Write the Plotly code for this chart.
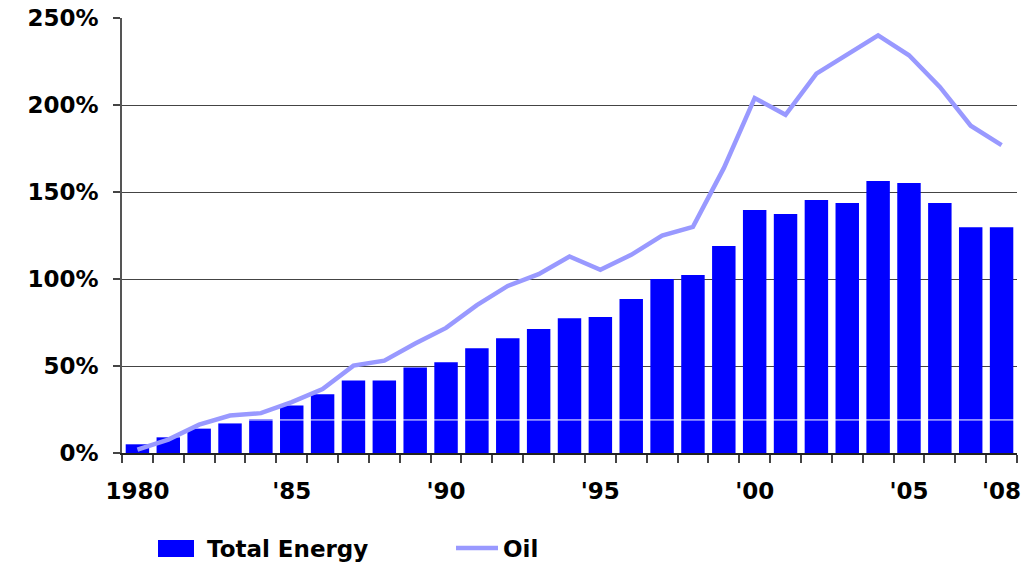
import plotly.graph_objects as go

# Growth since 1980, in percent
years = list(range(1980, 2009))
total_energy = [5, 9, 14, 17, 19.5, 27.3, 33.7, 41.7, 41.7, 49.2, 52.1,
                60.2, 66, 71.2, 77.5, 78.1, 88.5, 100, 102.3, 118.9, 139.6,
                137.3, 145.4, 143.7, 156.3, 155.2, 143.7, 129.8, 129.8]
oil = [2, 7.7, 16.3, 21.5, 22.9, 29.2, 36.7, 50.2, 53.1, 62.9, 71.9,
       85, 96, 102.8, 112.9, 105.3, 113.9, 125, 130, 163.7, 204, 194.4,
       218, 229, 240, 228.6, 210.4, 188.1, 176.9]
tick_years = [1980, 1985, 1990, 1995, 2000, 2005, 2008]
tick_text = ["1980", "'85", "'90", "'95", "'00", "'05", "'08"]
y_ticks = [0, 50, 100, 150, 200, 250]
rule_level = 19

BAR = "#0000FF"
OIL = "#9999FF"
FONT = "DejaVu Sans"
FS = 23

x_lo, x_hi = years[0] - 0.5, years[-1] + 0.5
boundaries = [y - 0.5 for y in years] + [x_hi]

fig = go.Figure()
fig.add_trace(go.Bar(x=years, y=total_energy, name="Total Energy",
                     marker=dict(color=BAR, line=dict(width=0)),
                     width=0.76, showlegend=False))
# thin white rule across the bars
fig.add_trace(go.Scatter(x=[x_lo, x_hi], y=[rule_level, rule_level],
                         mode="lines", line=dict(color="white", width=1),
                         hoverinfo="skip", showlegend=False))
fig.add_trace(go.Scatter(x=years, y=oil, name="Oil", mode="lines",
                         line=dict(color=OIL, width=4.5),
                         showlegend=False))

fig.update_layout(
    width=1030, height=563,
    margin=dict(l=122, r=13, t=18, b=110),
    paper_bgcolor="white", plot_bgcolor="white",
    font=dict(family=FONT, size=FS, color="black"),
)
fig.update_xaxes(
    range=[x_lo, x_hi], tickmode="array", tickvals=tick_years,
    ticktext=tick_text, ticks="", showgrid=False, zeroline=False,
    showline=True, linecolor="#222", linewidth=1.5, automargin=False,
    tickfont=dict(family=FONT, size=FS, color="black", weight="bold"),
    ticklabelstandoff=17,
    minor=dict(tickvals=boundaries, ticks="outside", ticklen=8,
               tickcolor="#444", tickwidth=1.5, showgrid=False),
)
fig.update_yaxes(
    range=[0, 250], tickmode="array", tickvals=y_ticks,
    ticktext=[f"{v}%" for v in y_ticks], ticks="outside", ticklen=7,
    tickcolor="#444", tickwidth=1.5, automargin=False,
    showgrid=True, gridcolor="#444", gridwidth=1, zeroline=False,
    showline=True, linecolor="#555", linewidth=1.5,
    tickfont=dict(family=FONT, size=FS, color="black", weight="bold"),
    ticklabelstandoff=10,
)


def px_x(p):
    return (p - 122) / 895


def px_y(p):
    return (453 - p) / 435


# legend row below the axis
fig.add_shape(type="rect", xref="paper", yref="paper",
              x0=px_x(158), x1=px_x(194), y0=px_y(557), y1=px_y(540),
              fillcolor=BAR, line=dict(width=0), layer="above")
fig.add_shape(type="line", xref="paper", yref="paper",
              x0=px_x(456), x1=px_x(498), y0=px_y(548), y1=px_y(548),
              line=dict(color=OIL, width=4.5), layer="above")
fig.add_annotation(text="<b>Total Energy</b>", xref="paper", yref="paper",
                   x=px_x(205), y=px_y(549),
                   xanchor="left", yanchor="middle", showarrow=False,
                   font=dict(family=FONT, size=FS, color="black"))
fig.add_annotation(text="<b>Oil</b>", xref="paper", yref="paper",
                   x=px_x(501), y=px_y(549),
                   xanchor="left", yanchor="middle", showarrow=False,
                   font=dict(family=FONT, size=FS, color="black"))

fig.write_html("out.html")
